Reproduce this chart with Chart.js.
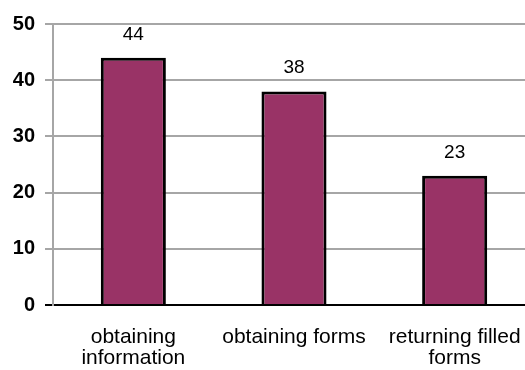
<!DOCTYPE html>
<html>
<head>
<meta charset="utf-8">
<script src="https://cdn.jsdelivr.net/npm/chart.js@4/dist/chart.umd.min.js"></script>
<style>
  html, body { margin: 0; padding: 0; background: #fff; overflow: hidden; }
</style>
</head>
<body>
<canvas id="chart" width="535" height="370"></canvas>
<script>
// categories (split over lines the way they're shown under the axis)
var categories = [["obtaining", "information"], "obtaining forms", ["returning filled", "forms"]];
var counts = [44, 38, 23];
var yTicks = [0, 10, 20, 30, 40, 50];

var gridGrey = "#a6a6a6";
var font = "'Liberation Sans', Arial, sans-serif";

// prints the value above each bar
var valueLabels = {
    id: "valueLabels",
    afterDatasetsDraw: function(chart) {
        var ctx = chart.ctx;
        var meta = chart.getDatasetMeta(0);
        ctx.save();
        ctx.fillStyle = "#000";
        ctx.font = "19px " + font;
        ctx.textAlign = "center";
        ctx.textBaseline = "alphabetic";
        meta.data.forEach(function(bar, i) {
            ctx.fillText(String(counts[i]), bar.x, bar.y - 18);
        });
        ctx.restore();
    }
};

new Chart(document.getElementById("chart"), {
    type: "bar",
    data: {
        labels: categories,
        datasets: [{
            data: counts,
            backgroundColor: "#993366",
            borderColor: "#000",
            borderWidth: 3,
            borderSkipped: "start",
            categoryPercentage: 1,
            barPercentage: 0.405
        }]
    },
    options: {
        responsive: false,
        animation: false,
        layout: { padding: { top: 24, right: 0, bottom: 0, left: 0 } },
        plugins: {
            legend: { display: false },
            tooltip: { enabled: false }
        },
        scales: {
            x: {
                grid: { display: false, drawTicks: false },
                border: { display: true, color: "#000", width: 2 },
                ticks: {
                    color: "#000",
                    font: { family: font, size: 21, lineHeight: 1.0 },
                    padding: 22,
                    maxRotation: 0,
                    autoSkip: false
                },
                afterFit: function(scale) {
                    scale.height = 65;
                    // the long last label may hang past the edge; don't shrink the plot for it
                    scale.paddingLeft = 0;
                    scale.paddingRight = 0;
                }
            },
            y: {
                min: 0,
                max: 50,
                afterBuildTicks: function(scale) {
                    scale.ticks = yTicks.map(function(v) { return { value: v }; });
                },
                grid: {
                    color: function(c) { return c.tick && c.tick.value === 0 ? "#000" : gridGrey; },
                    lineWidth: 2,
                    tickLength: 8
                },
                border: { display: true, color: gridGrey, width: 2 },
                ticks: {
                    color: "#000",
                    font: { family: font, size: 20, weight: "bold" },
                    padding: 10
                },
                afterFit: function(scale) { scale.width = 53; }
            }
        }
    },
    plugins: [valueLabels]
});
</script>
</body>
</html>
